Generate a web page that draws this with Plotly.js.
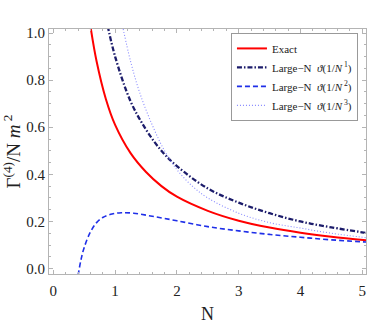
<!DOCTYPE html>
<html>
<head>
<meta charset="utf-8">
<script src="https://cdn.plot.ly/plotly-3.0.1.min.js"></script>
<style>
  html, body { margin: 0; padding: 0; background: #fff; }
  #chart { width: 368px; height: 327px; }
</style>
</head>
<body>
<div id="chart"></div>
<script>
// values
const exactN = [0.60, 0.70, 0.85, 1.00, 1.25, 1.50, 1.75, 2.00, 2.50, 3.00, 3.50, 4.00, 4.50, 5.10];
const exactV = [1.03, 0.88, 0.72, 0.61, 0.49, 0.41, 0.35, 0.305, 0.245, 0.203, 0.174, 0.152, 0.135, 0.119];

const order1N = [0.88, 1.00, 1.25, 1.50, 1.75, 2.00, 2.50, 3.00, 3.50, 4.00, 4.50, 5.10];
const order1V = [1.03, 0.90, 0.71, 0.59, 0.50, 0.435, 0.34, 0.28, 0.235, 0.20, 0.175, 0.15];

const order2N = [0.40, 0.45, 0.50, 0.60, 0.70, 0.80, 0.95, 1.10, 1.30, 1.60, 2.00, 2.50, 3.00, 3.50, 4.00, 4.50, 5.10];
const order2V = [-0.03, 0.04, 0.09, 0.155, 0.195, 0.217, 0.232, 0.237, 0.235, 0.222, 0.203, 0.178, 0.160, 0.145, 0.133, 0.122, 0.112];

const order3N = [1.12, 1.25, 1.40, 1.60, 1.80, 2.00, 2.25, 2.50, 3.00, 3.50, 4.00, 4.50, 5.10];
const order3V = [1.03, 0.88, 0.745, 0.61, 0.50, 0.42, 0.35, 0.30, 0.235, 0.195, 0.172, 0.150, 0.13];

const xTicks = [0, 1, 2, 3, 4, 5];
const yTicks = [0.0, 0.2, 0.4, 0.6, 0.8, 1.0];
const yTickText = ['0.0', '0.2', '0.4', '0.6', '0.8', '1.0'];

const SERIF = 'Liberation Serif';

const traces = [
    {
        x: exactN, y: exactV, mode: 'lines', line: { color: '#ff0000', width: 2, shape: 'spline' },
        name: 'Exact'
    },
    {
        x: order1N, y: order1V, mode: 'lines',
        line: { color: '#1c1c6b', width: 2.3, dash: '5px,2px,1.5px,2px', shape: 'spline' },
        name: 'Large\u2212N  <i>\u03d1</i>(1/<i>N</i><sup> 1</sup>)'
    },
    {
        x: order2N, y: order2V, mode: 'lines',
        line: { color: '#1f2fe8', width: 1.6, dash: '5px,3px', shape: 'spline' },
        name: 'Large\u2212N  <i>\u03d1</i>(1/<i>N</i><sup> 2</sup>)'
    },
    {
        x: order3N, y: order3V, mode: 'lines',
        line: { color: '#8a8cff', width: 1.1, dash: '1px,2px', shape: 'spline' },
        name: 'Large\u2212N  <i>\u03d1</i>(1/<i>N</i><sup> 3</sup>)'
    }
];

const axisCommon = {
    showgrid: false,
    zeroline: false,
    showline: true,
    linecolor: '#b4b4b4',
    linewidth: 1,
    mirror: 'allticks',
    ticks: 'inside',
    ticklen: 4,
    tickcolor: '#b4b4b4',
    tickfont: { family: SERIF, size: 15, color: '#222' }
};

const layout = {
    width: 368,
    height: 327,
    paper_bgcolor: '#fff',
    plot_bgcolor: '#fff',
    margin: { l: 49, r: 2, t: 29, b: 53 },
    showlegend: true,
    font: { family: SERIF, color: '#222' },
    xaxis: Object.assign({}, axisCommon, {
        range: [-0.07, 5.06],
        tickvals: xTicks,
        ticklabelstandoff: 3,
        minor: { dtick: 0.2, ticklen: 2, tickcolor: '#b4b4b4', ticks: 'inside' },
        title: { text: 'N', font: { family: SERIF, size: 18 }, standoff: 9 }
    }),
    yaxis: Object.assign({}, axisCommon, {
        range: [-0.023, 1.017],
        tickvals: yTicks,
        ticktext: yTickText,
        minor: { dtick: 0.05, ticklen: 2, tickcolor: '#b4b4b4', ticks: 'inside' },
        title: {
            text: '\u0393<sup>(4)</sup>/N <i>m</i><sup> 2</sup>',
            font: { family: SERIF, size: 19 },
            standoff: 3
        }
    }),
    legend: {
        x: 0.574, y: 0.984,
        xanchor: 'left', yanchor: 'top',
        bgcolor: '#fff',
        bordercolor: '#999',
        borderwidth: 1,
        font: { family: SERIF, size: 11, color: '#222' },
        tracegroupgap: 0,
        itemwidth: 30
    }
};

Plotly.newPlot('chart', traces, layout, { displayModeBar: false, staticPlot: true });
</script>
</body>
</html>
